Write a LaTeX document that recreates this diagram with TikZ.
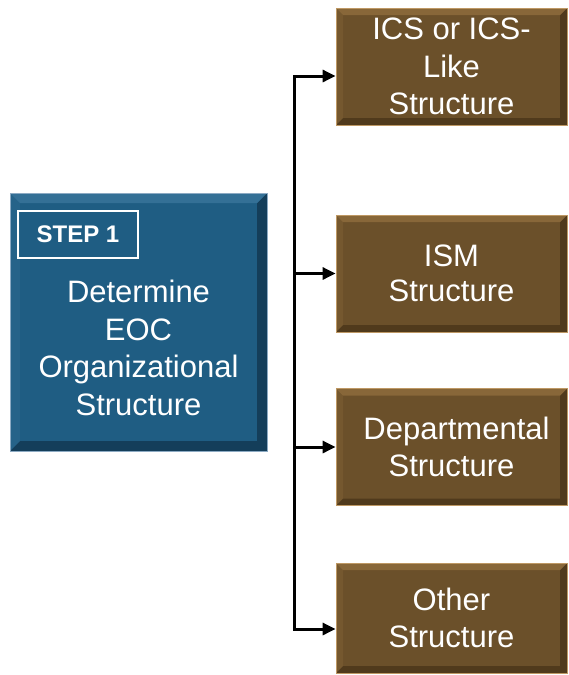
\documentclass[tikz,border=0pt]{standalone}
\usepackage{fontspec}
\setmainfont{Liberation Sans}
\usetikzlibrary{arrows.meta}

\definecolor{eocblue}{RGB}{31,93,131}
\definecolor{eoclight}{RGB}{52,112,150}
\definecolor{eocdark}{RGB}{20,62,90}
\definecolor{eocedge}{RGB}{140,170,195}
\definecolor{kindbrown}{RGB}{107,80,42}
\definecolor{kindlight}{RGB}{136,103,57}
\definecolor{kinddark}{RGB}{80,58,28}
\definecolor{kindedge}{RGB}{190,152,100}

\tikzset{
  bevel/.style n args={3}{path picture={
    \coordinate (pne) at (path picture bounding box.north east);
    \coordinate (pnw) at (path picture bounding box.north west);
    \coordinate (pse) at (path picture bounding box.south east);
    \coordinate (psw) at (path picture bounding box.south west);
    \fill[#2] (pne) -- (pse) -- (psw) -- ([shift={(#3,#3)}]psw)
      -- ([shift={(-#3,#3)}]pse) -- ([shift={(-#3,-#3)}]pne) -- cycle;
    \fill[#1] (pnw) -- (pne) -- ([shift={(-#3,-#3)}]pne)
      -- ([shift={(#3,-#3)}]pnw) -- cycle;
    \fill[#1, opacity=.35] (pnw) -- ([shift={(#3,-#3)}]pnw)
      -- ([shift={(#3,#3)}]psw) -- (psw) -- cycle;
  }},
  eocbox/.style={rectangle, fill=eocblue, draw=eocedge, line width=.8pt,
    minimum width=257pt, minimum height=258pt,
    bevel={eoclight}{eocdark}{10pt}},
  stepbox/.style={rectangle, draw=white, line width=1.6pt, text=white,
    minimum width=120pt, minimum height=47pt,
    font=\fontsize{24}{28}\selectfont\bfseries},
  eoctext/.style={text=white, align=center, inner sep=0pt,
    font=\fontsize{31}{37.5}\selectfont},
  kindbox/.style={rectangle, fill=kindbrown, draw=kindedge, line width=.8pt,
    text=white, align=center, inner sep=0pt,
    minimum width=231pt, minimum height=117pt,
    font=\fontsize{31}{37.5}\selectfont,
    bevel={kindlight}{kinddark}{7pt}},
  bus/.style={line width=3pt, black},
  headtip/.tip={Triangle[length=13pt, width=12pt]}
}

\begin{document}
\begin{tikzpicture}[x=1pt, y=-1pt]
  \useasboundingbox (0,0) rectangle (569,675);

  \node[eocbox] (eoc) at (138.5,322) {};
  \node[stepbox] (step) at (78,234.5) {STEP 1};
  \node[eoctext] (determine) at (138.5,348) {Determine\\EOC\\Organizational\\Structure};

  \node[kindbox] (ics) at (451.5,66.5) {ICS or ICS-\\Like\\Structure};
  \node[kindbox] (ism) at (451.5,273.5) {\raisebox{-3pt}{ISM}\\Structure};
  \node[kindbox] (dept) at (451.5,447) {\hspace*{10pt}Departmental\\Structure};
  \node[kindbox, minimum height=110pt] (other) at (451.5,618) {Other\\Structure};

  \coordinate (bus top) at (294,76);
  \coordinate (bus bottom) at (294,629);

  \draw[bus, headtip-headtip] (ics.west |- bus top) -- (bus top) -- (bus bottom) -- (other.west |- bus bottom);
  \draw[bus, -headtip] (bus top |- ism.west) -- (ism.west);
  \draw[bus, -headtip] (bus top |- dept.west) -- (dept.west);
\end{tikzpicture}
\end{document}
